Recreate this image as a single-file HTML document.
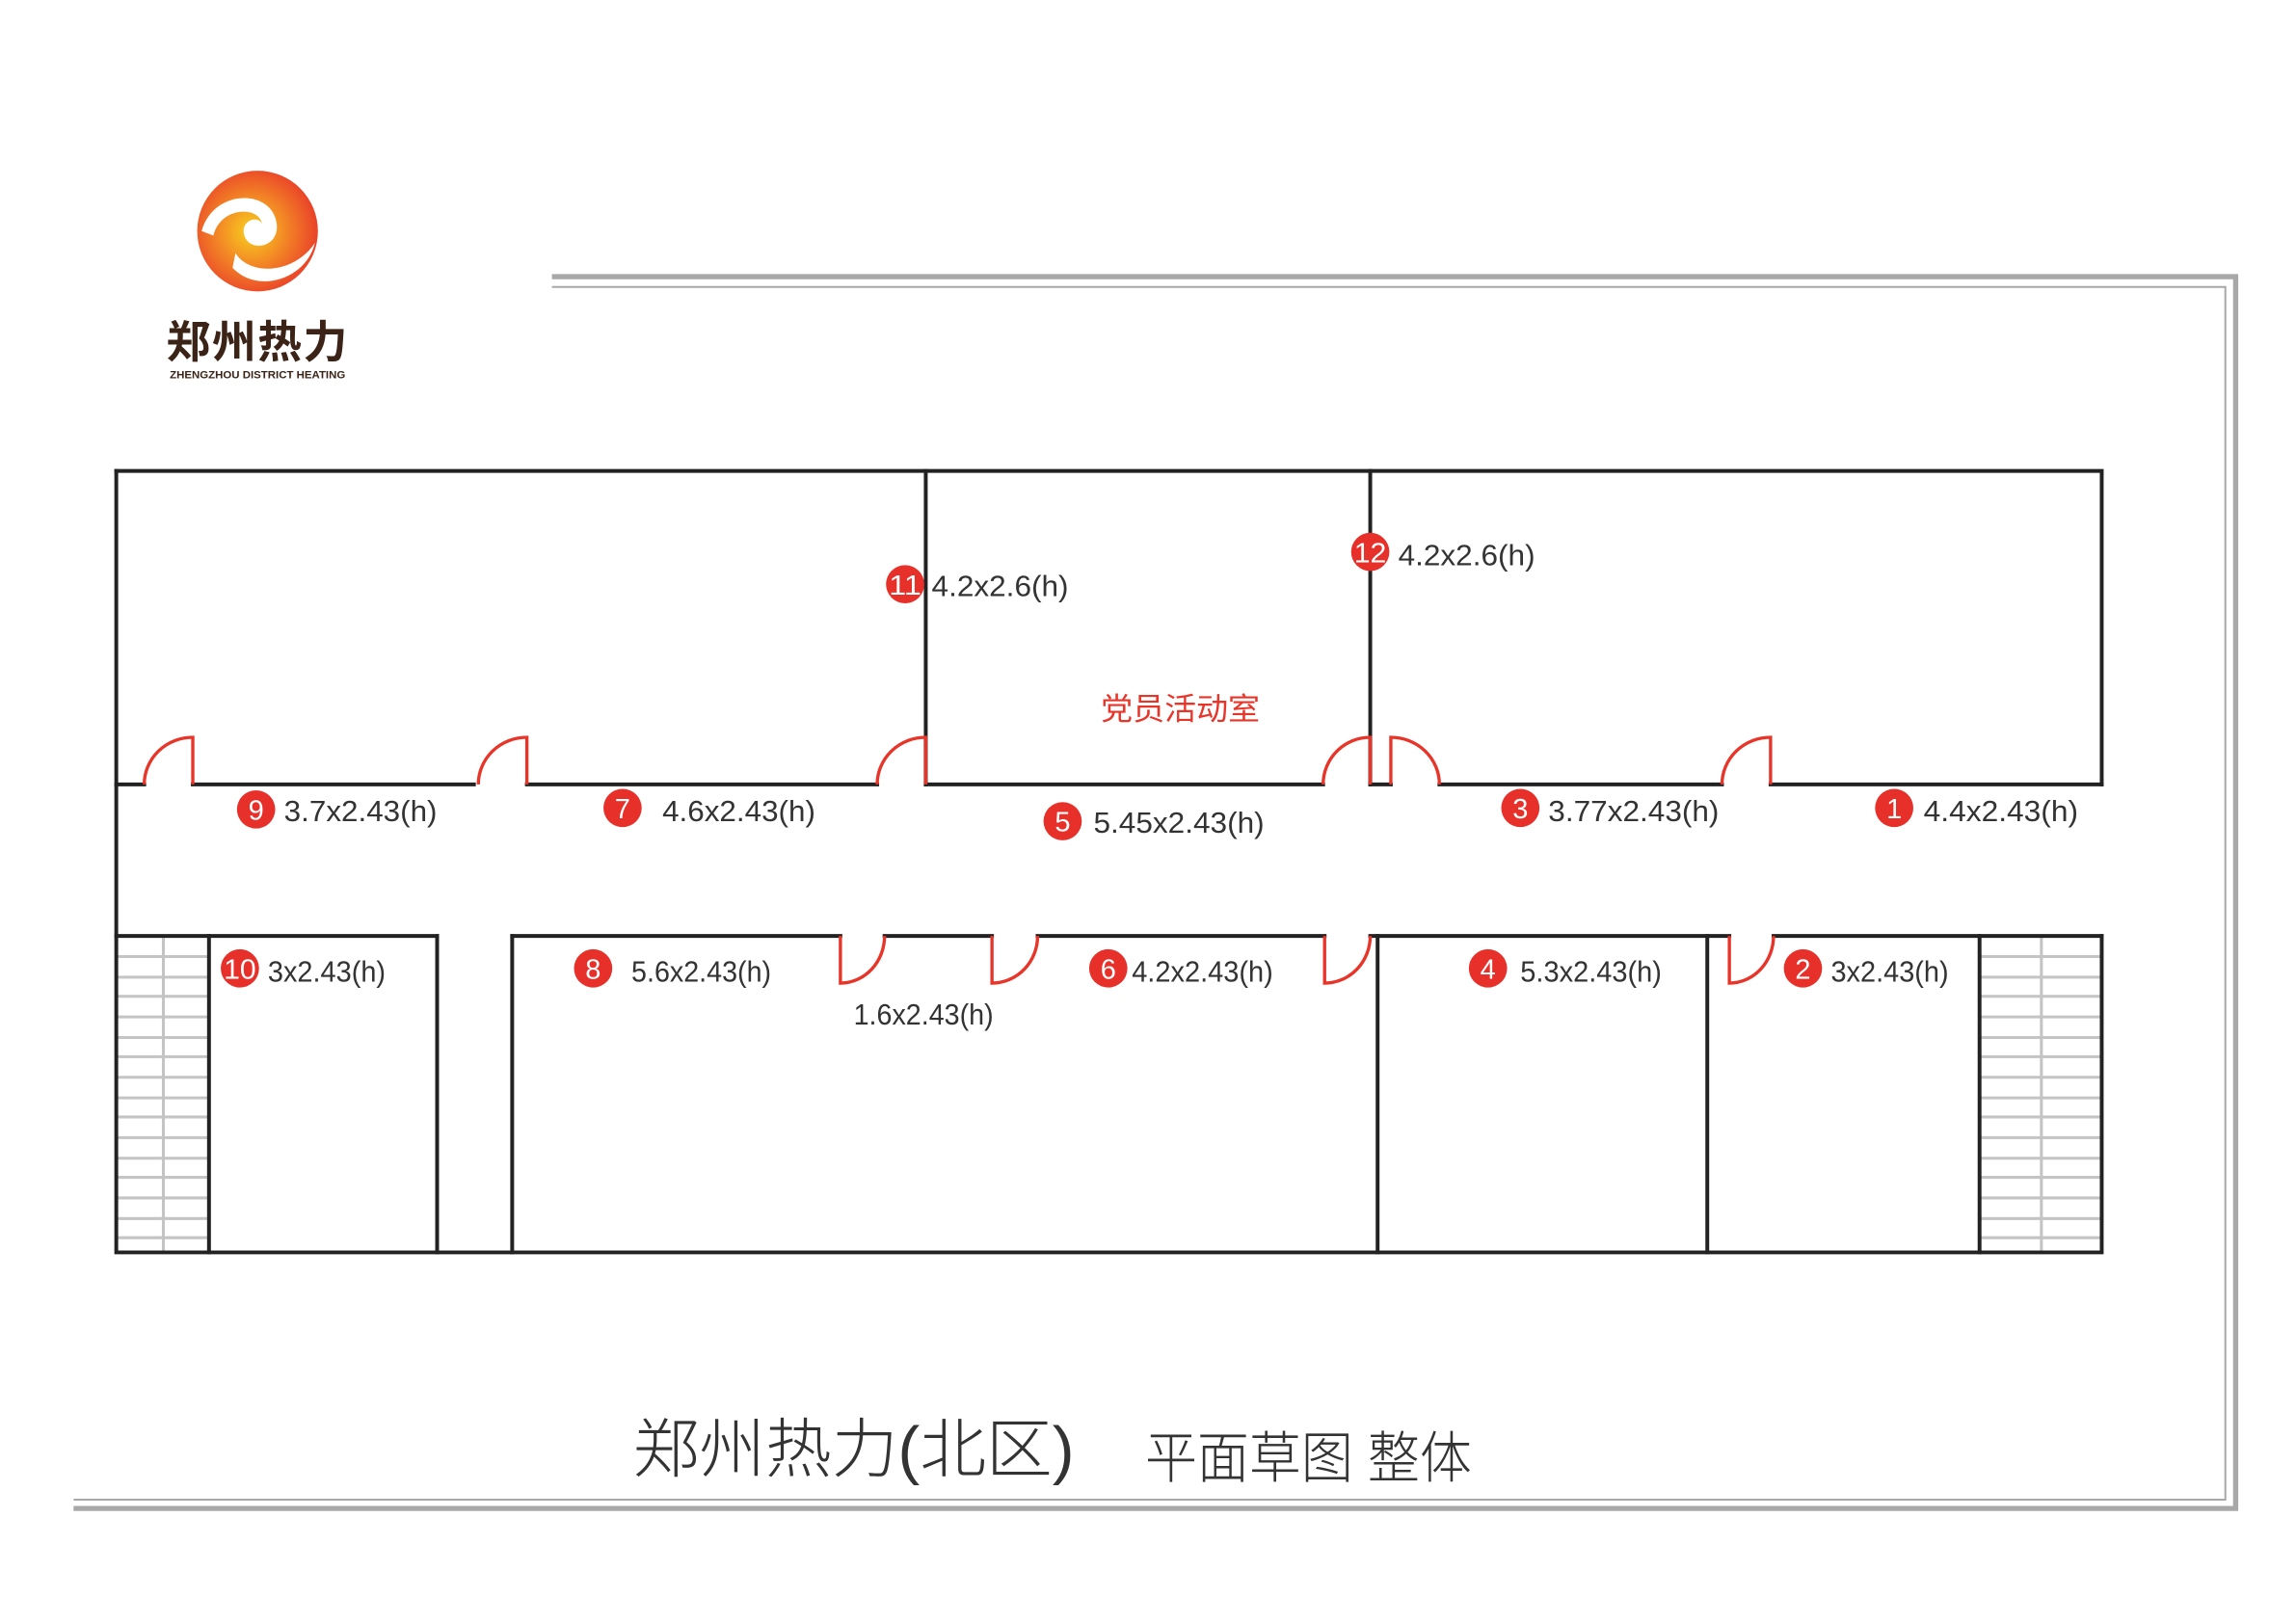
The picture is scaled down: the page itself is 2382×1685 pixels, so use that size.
<!DOCTYPE html>
<html><head><meta charset="utf-8"><style>html,body{margin:0;padding:0;background:#fff}svg{display:block}</style></head>
<body>
<svg width="2382" height="1685" viewBox="0 0 1560 1103.5" preserveAspectRatio="none" xmlns="http://www.w3.org/2000/svg">
<defs>
<radialGradient id="lg" cx="0.45" cy="0.5" r="0.6">
<stop offset="0" stop-color="#f7d21e"/><stop offset="0.45" stop-color="#f38a25"/><stop offset="1" stop-color="#e8352a"/>
</radialGradient>
</defs>
<rect width="1560" height="1103.5" fill="#fff"/>
<!-- frame -->
<g fill="none" stroke="#a8a8a8">
<path d="M375,188 H1519 V1025 H50" stroke-width="3.5"/>
<path d="M375,195 H1512 V1019 H50" stroke-width="1.3"/>
</g>
<!-- logo -->
<circle cx="175" cy="157" r="41" fill="url(#lg)"/>
<path d="M137,157 C145,128 185,128 188,152 C190,168 170,172 166,160 C163,150 175,146 178,152 C176,140 150,140 145,160 Z" fill="#fff"/>
<path d="M160,172 C170,188 200,186 214,165 C208,190 175,200 158,182 Z" fill="#fff"/>
<text x="175" y="243" text-anchor="middle" font-family="'Liberation Sans','Noto Sans CJK SC',sans-serif" font-weight="bold" font-size="30" fill="#3b2417" letter-spacing="1">郑州热力</text>
<text x="175" y="257" text-anchor="middle" font-family="'Liberation Sans',sans-serif" font-weight="bold" font-size="7.5" fill="#3b2417">ZHENGZHOU DISTRICT HEATING</text>
<!-- stairs -->
<g stroke="#c4c4c4" stroke-width="2">
<path d="M111,636 V851 M1387,636 V851"/>
<path d="M80,650 H142 M80,664 H142 M80,677 H142 M80,691 H142 M80,705 H142 M80,718 H142 M80,732 H142 M80,746 H142 M80,759 H142 M80,773 H142 M80,787 H142 M80,800 H142 M80,814 H142 M80,828 H142 M80,841 H142"/>
<path d="M1345,650 H1428 M1345,664 H1428 M1345,677 H1428 M1345,691 H1428 M1345,705 H1428 M1345,718 H1428 M1345,732 H1428 M1345,746 H1428 M1345,759 H1428 M1345,773 H1428 M1345,787 H1428 M1345,800 H1428 M1345,814 H1428 M1345,828 H1428 M1345,841 H1428"/>
</g>
<!-- walls -->
<g stroke="#222" stroke-width="2.6" fill="none" stroke-linecap="square">
<path d="M79,320 H1428 V533"/>
<path d="M79,320 V851 H1428 V636"/>
<path d="M629,320 V533 M931,320 V533"/>
<path d="M79,533 H98 M131,533 H322 M358,533 H596 M629,533 H899 M931,533 H945 M978,533 H1170 M1203,533 H1428"/>
<path d="M79,636 H297 M348,636 H571 M601,636 H674 M705,636 H900 M931,636 H1175 M1205,636 H1428"/>
<path d="M142,636 V851 M297,636 V851 M348,636 V851 M936,636 V851 M1160,636 V851 M1345,636 V851"/>
</g>
<!-- doors -->
<g stroke="#e8352a" stroke-width="2.2" fill="none">
<path d="M98,533 A33,32 0 0 1 131,501 V533"/>
<path d="M325,533 A33,32 0 0 1 358,501 V533"/>
<path d="M596,533 A33,32 0 0 1 629,501 V533"/>
<path d="M899,533 A32,32 0 0 1 931,501 V533"/>
<path d="M945,533 V501 A33,32 0 0 1 978,533"/>
<path d="M1170,533 A33,32 0 0 1 1203,501 V533"/>
<path d="M571,636 V668 A30,32 0 0 0 601,636"/>
<path d="M674,636 V668 A31,32 0 0 0 705,636"/>
<path d="M900,636 V668 A31,32 0 0 0 931,636"/>
<path d="M1175,636 V668 A30,32 0 0 0 1205,636"/>
</g>
<!-- badges -->
<g fill="#e8302a">
<circle cx="174" cy="550" r="13"/><circle cx="423" cy="549" r="13"/><circle cx="722" cy="558" r="13"/>
<circle cx="1033" cy="549" r="13"/><circle cx="1287" cy="549" r="13"/>
<circle cx="163" cy="658" r="13"/><circle cx="403" cy="658" r="13"/><circle cx="753" cy="658" r="13"/>
<circle cx="1011" cy="658" r="13"/><circle cx="1225" cy="658" r="13"/>
<circle cx="615" cy="397" r="13"/><circle cx="931" cy="375" r="13"/>
</g>
<g fill="#fff" font-family="'Liberation Sans',sans-serif" font-size="19" text-anchor="middle">
<text x="174" y="557">9</text><text x="423" y="556">7</text><text x="722" y="565">5</text>
<text x="1033" y="556">3</text><text x="1287" y="556">1</text>
<text x="163" y="665" textLength="22" lengthAdjust="spacingAndGlyphs">10</text><text x="403" y="665">8</text><text x="753" y="665">6</text>
<text x="1011" y="665">4</text><text x="1225" y="665">2</text>
<text x="615" y="404" textLength="22" lengthAdjust="spacingAndGlyphs">11</text><text x="931" y="382" textLength="22" lengthAdjust="spacingAndGlyphs">12</text>
</g>
<g fill="#333" font-family="'Liberation Sans',sans-serif" font-size="20">
<text x="193" y="558" textLength="104" lengthAdjust="spacingAndGlyphs">3.7x2.43(h)</text>
<text x="450" y="558" textLength="104" lengthAdjust="spacingAndGlyphs">4.6x2.43(h)</text>
<text x="743" y="566" textLength="116" lengthAdjust="spacingAndGlyphs">5.45x2.43(h)</text>
<text x="1052" y="558" textLength="116" lengthAdjust="spacingAndGlyphs">3.77x2.43(h)</text>
<text x="1307" y="558" textLength="105" lengthAdjust="spacingAndGlyphs">4.4x2.43(h)</text>
<text x="182" y="667" textLength="80" lengthAdjust="spacingAndGlyphs">3x2.43(h)</text>
<text x="429" y="667" textLength="95" lengthAdjust="spacingAndGlyphs">5.6x2.43(h)</text>
<text x="580" y="696" textLength="95" lengthAdjust="spacingAndGlyphs">1.6x2.43(h)</text>
<text x="769" y="667" textLength="96" lengthAdjust="spacingAndGlyphs">4.2x2.43(h)</text>
<text x="1033" y="667" textLength="96" lengthAdjust="spacingAndGlyphs">5.3x2.43(h)</text>
<text x="1244" y="667" textLength="80" lengthAdjust="spacingAndGlyphs">3x2.43(h)</text>
<text x="633" y="405" textLength="93" lengthAdjust="spacingAndGlyphs">4.2x2.6(h)</text>
<text x="950" y="384" textLength="93" lengthAdjust="spacingAndGlyphs">4.2x2.6(h)</text>
</g>
<text x="748" y="489" fill="#e8352a" font-family="'Liberation Sans','Noto Sans CJK SC',sans-serif" font-size="21" textLength="108" lengthAdjust="spacingAndGlyphs">党员活动室</text>
<text x="430" y="1000" fill="#333" font-family="'Liberation Sans','Noto Sans CJK SC',sans-serif" font-weight="300" font-size="44" textLength="300" lengthAdjust="spacingAndGlyphs">郑州热力(北区)</text>
<text x="778" y="1004" fill="#333" font-family="'Liberation Sans','Noto Sans CJK SC',sans-serif" font-weight="300" font-size="38" textLength="222" lengthAdjust="spacingAndGlyphs">平面草图 整体</text>
</svg>
</body></html>
